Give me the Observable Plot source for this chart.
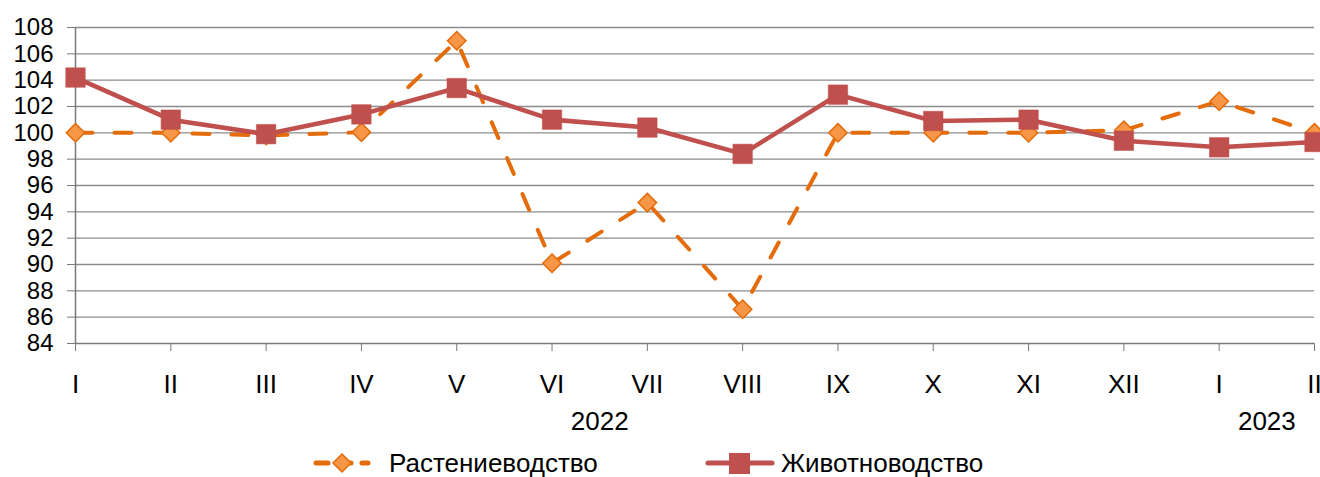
<!DOCTYPE html>
<html>
<head>
<meta charset="utf-8">
<script src="https://cdn.jsdelivr.net/npm/d3@7"></script>
<script src="https://cdn.jsdelivr.net/npm/@observablehq/plot@0.6"></script>
<style>
  html, body { margin: 0; padding: 0; background: #fff; }
  body { width: 1320px; height: 477px; overflow: hidden; font-family: "Liberation Sans", Arial, sans-serif; }
  #legend { position: relative; height: 26px; width: 1320px; margin-top: 9px; font-size: 26px; line-height: 26px; color: #000; }
  .item { position: absolute; top: 0; display: flex; align-items: center; height: 26px; }
  .item svg { display: block; }
  .item span { white-space: nowrap; line-height: 26px; }
</style>
</head>
<body>
<div id="chart"></div>
<div id="legend"></div>
<script>
const months = ["I","II","III","IV","V","VI","VII","VIII","IX","X","XI","XII","I","II"];
const crops = [100.0, 100.0, 99.8, 100.05, 107.0, 90.1, 94.7, 86.6, 100.0, 100.0, 100.0, 100.2, 102.4, 100.0];
const livestock = [104.2, 101.0, 99.9, 101.4, 103.4, 101.0, 100.4, 98.4, 102.9, 100.9, 101.0, 99.4, 98.9, 99.3];
const yTicks = [84, 86, 88, 90, 92, 94, 96, 98, 100, 102, 104, 106, 108];
const years = ["2022", "2023"];
const yearFirst = [0, 12];
const yearLast = [11, 13];
const seriesNames = ["Растениеводство", "Животноводство"];

const orange = "#E46C0A", orangeFill = "#F79646", red = "#C0504D", grid = "#8C8C8C";

const idx = d3.range(months.length);
const cropData = idx.map(i => ({i, v: crops[i]}));
const liveData = idx.map(i => ({i, v: livestock[i]}));
const yearData = years.map((y, k) => ({label: y, mid: (yearFirst[k] + yearLast[k]) / 2}));

const chart = Plot.plot({
  width: 1320,
  height: 441,
  marginLeft: 75,
  marginRight: 6,
  marginTop: 27,
  marginBottom: 98,
  style: {fontFamily: '"Liberation Sans", Arial, sans-serif', fontSize: "26px", color: "#000", background: "#fff", overflow: "visible"},
  x: {type: "linear", domain: [0, months.length - 1], label: null},
  y: {domain: [yTicks[0], yTicks[yTicks.length - 1]], label: null},
  marks: [
    Plot.gridY(yTicks.slice(1), {stroke: grid, strokeOpacity: 1, strokeWidth: 1.3}),
    Plot.ruleY([yTicks[0]], {stroke: "#7a7a7a", strokeWidth: 1.5}),
    Plot.ruleX([0], {stroke: "#7a7a7a", strokeWidth: 1.5}),
    Plot.axisY(yTicks, {tickSize: 8, tickPadding: 14, fontSize: 24, stroke: "#7a7a7a", fill: "#000", label: null}),
    Plot.axisX(idx, {tickSize: 8, tickPadding: 23, fontSize: 26, stroke: "#7a7a7a", fill: "#000", tickFormat: i => months[i], label: null}),
    Plot.text(yearData, {x: "mid", frameAnchor: "bottom", lineAnchor: "top", dy: 68, text: "label", fontSize: 26, fill: "#000", clip: false}),
    Plot.line(cropData, {x: "i", y: "v", stroke: orange, strokeWidth: 4, strokeDasharray: "17,22", strokeLinecap: "round"}),
    Plot.dot(cropData, {x: "i", y: "v", symbol: "diamond2", r: 8.3, fill: orangeFill, stroke: orange, strokeWidth: 1.5}),
    Plot.line(liveData, {x: "i", y: "v", stroke: red, strokeWidth: 4.6}),
    Plot.dot(liveData, {x: "i", y: "v", symbol: "square", r: 11, fill: red, stroke: red, strokeWidth: 0.5})
  ]
});
document.getElementById("chart").appendChild(chart);

// Legend
const legend = document.getElementById("legend");
const items = [
  {name: seriesNames[0], left: 313, w: 58, color: orange, dash: "12,11", marker: `<path d="M29,4 L38,13 L29,22 L20,13 Z" fill="${orangeFill}" stroke="${orange}" stroke-width="1.5"/>`, textLeft: 18},
  {name: seriesNames[1], left: 705, w: 70, color: red, dash: null, marker: `<rect x="24" y="3" width="21" height="21" fill="${red}"/>`, textLeft: 6}
];
for (const it of items) {
  const div = document.createElement("div");
  div.className = "item";
  div.style.left = it.left + "px";
  div.innerHTML = `<svg width="${it.w}" height="26" viewBox="0 0 ${it.w} 26"><line x1="3" x2="${it.w - 3}" y1="13" y2="13" stroke="${it.color}" stroke-width="5" stroke-linecap="round" ${it.dash ? `stroke-dasharray="${it.dash}"` : ""}/>${it.marker}</svg><span style="margin-left:${it.textLeft}px">${it.name}</span>`;
  legend.appendChild(div);
}
</script>
</body>
</html>
